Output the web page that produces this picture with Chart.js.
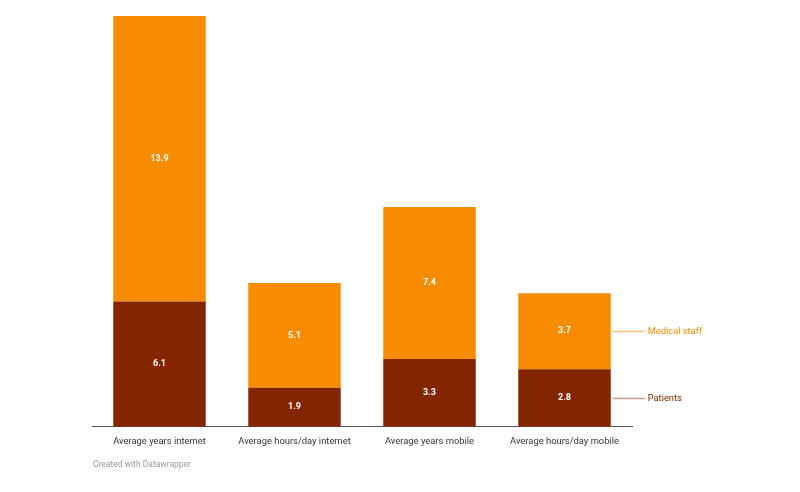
<!DOCTYPE html>
<html>
<head>
<meta charset="utf-8">
<script src="https://cdn.jsdelivr.net/npm/chart.js@4/dist/chart.umd.min.js"></script>
<style>
  html, body { margin: 0; padding: 0; background: #fff; }
  #wrap { position: relative; width: 800px; height: 492px; }
</style>
</head>
<body>
<div id="wrap"><canvas id="myBar" width="800" height="492"></canvas></div>
<script>
var categories = ['Average years internet', 'Average hours/day internet', 'Average years mobile', 'Average hours/day mobile'];
var patients = [6.1, 1.9, 3.3, 2.8];
var medicalStaff = [13.9, 5.1, 7.4, 3.7];
var seriesNames = ['Patients', 'Medical staff'];
var colors = ['#832600', '#F78C00'];
var lineColors = ['#c49a88', '#fbc27a'];

var barPosition = document.getElementById('myBar').getContext('2d');

// white values inside the bars + labels on the right of the last bar
var extras = {
    id: 'extras',
    afterDatasetsDraw: (chart) => {
        var ctx = chart.ctx;
        ctx.save();
        chart.data.datasets.forEach((ds, i) => {
            var meta = chart.getDatasetMeta(i);
            meta.data.forEach((bar, j) => {
                var mid = (bar.y + bar.base) / 2;
                ctx.fillStyle = '#fff';
                ctx.font = 'bold 9px Roboto';
                ctx.textAlign = 'center';
                ctx.textBaseline = 'middle';
                ctx.fillText(ds.data[j].toFixed(1), bar.x, mid);
            });
            var last = meta.data[meta.data.length - 1];
            var y = Math.round((last.y + last.base) / 2) + 0.5;
            var x0 = last.x + last.width / 2 + 2;
            ctx.strokeStyle = lineColors[i];
            ctx.lineWidth = 1.5;
            ctx.beginPath();
            ctx.moveTo(x0, y);
            ctx.lineTo(x0 + 32, y);
            ctx.stroke();
            ctx.fillStyle = colors[i];
            ctx.font = '9.3px Roboto';
            ctx.textAlign = 'left';
            ctx.fillText(ds.label, x0 + 35, y);
        });
        ctx.fillStyle = '#999';
        ctx.font = '8.5px Roboto';
        ctx.textAlign = 'left';
        ctx.textBaseline = 'middle';
        ctx.fillText('Created with Datawrapper', 93, 465);
        ctx.restore();
    }
};

var myBarChart = new Chart(barPosition, {
    type: 'bar',
    data: {
        labels: categories,
        datasets: [{
            label: seriesNames[0],
            data: patients,
            backgroundColor: colors[0],
            categoryPercentage: 1,
            barPercentage: 0.685
        }, {
            label: seriesNames[1],
            data: medicalStaff,
            backgroundColor: colors[1],
            categoryPercentage: 1,
            barPercentage: 0.685
        }]
    },
    options: {
        responsive: false,
        animation: false,
        layout: { padding: { left: 92, right: 168, top: 16, bottom: 36 } },
        plugins: {
            legend: { display: false },
            tooltip: { enabled: false }
        },
        scales: {
            x: {
                stacked: true,
                grid: { display: false, drawTicks: false },
                border: { color: '#555', width: 1 },
                ticks: { color: '#333', font: { family: 'Roboto', size: 9.4 }, padding: 9, maxRotation: 0, autoSkip: false }
            },
            y: {
                stacked: true,
                display: false,
                min: 0,
                max: 20
            }
        }
    },
    plugins: [extras]
});
</script>
</body>
</html>
